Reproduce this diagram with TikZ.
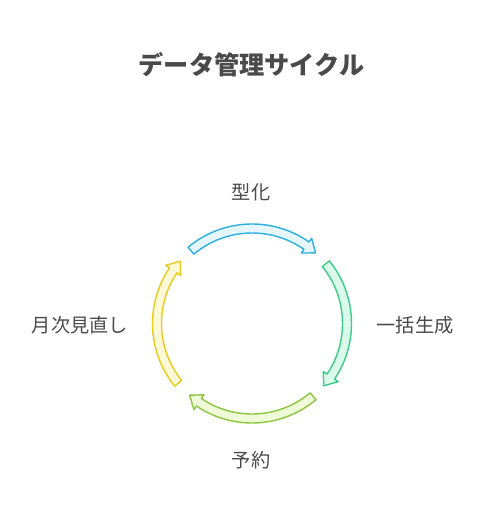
\documentclass[tikz,border=0pt]{standalone}
\usepackage{fontspec}
\setmainfont{Noto Sans CJK JP}
\usetikzlibrary{positioning}
\definecolor{skyline}{HTML}{2BB0E0}
\definecolor{skyfill}{HTML}{E5F6FD}
\definecolor{mintline}{HTML}{3ECB8A}
\definecolor{mintfill}{HTML}{DCFAEC}
\definecolor{limeline}{HTML}{8DC63F}
\definecolor{limefill}{HTML}{EEFAD8}
\definecolor{goldline}{HTML}{E8CB1C}
\definecolor{goldfill}{HTML}{FDF9D6}
\definecolor{labelgray}{HTML}{4A4A4A}
\tikzset{
  steplabel/.style={text=labelgray, font=\fontsize{19.2}{21}\selectfont, inner sep=0pt},
  arcarrow/.style={line width=1.4pt, line join=round},
}
% curved arrow: start angle, end angle (clockwise), draw colour, fill colour
\newcommand{\cyclearrow}[4]{%
  \draw[arcarrow, draw=#3, fill=#4]
    (#1:99.5) arc[start angle=#1, end angle=#2+7, radius=99.5]
    -- (#2+7:104) -- (#2:95) -- (#2+7:86) -- (#2+7:90.5)
    arc[start angle=#2+7, end angle=#1, radius=90.5] -- cycle;}

\begin{document}
\begin{tikzpicture}[x=1pt, y=1pt]
  \useasboundingbox[fill=white] (-252,-192.5) rectangle (228,323.5);
  \coordinate (C) at (0,0);

  \node [text=labelgray, font=\bfseries\fontsize{25.2}{28}\selectfont] (title) at (-0.5,258.5) {データ管理サイクル};

  \cyclearrow{130}{48}{skyline}{skyfill}
  \cyclearrow{39}{-41}{mintline}{mintfill}
  \cyclearrow{-50}{-131}{limeline}{limefill}
  \cyclearrow{-141}{-221}{goldline}{goldfill}

  \node [steplabel] (shape) at (-1,131) {型化};
  \node [steplabel] (bulk) at (163,-1.5) {一括生成};
  \node [steplabel] (booking) at (-1,-136.5) {予約};
  \node [steplabel] (review) at (-172,-2) {月次見直し};
\end{tikzpicture}
\end{document}
